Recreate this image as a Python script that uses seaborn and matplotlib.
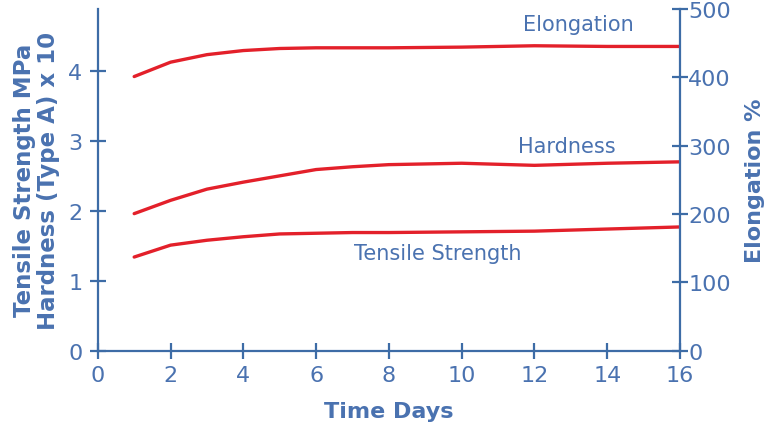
import matplotlib
matplotlib.use("Agg")
import matplotlib.pyplot as plt
import seaborn as sns

# data
days = [1, 2, 3, 4, 5, 6, 7, 8, 10, 12, 14, 16]
elongation = [401, 422, 433, 439, 442, 443, 443, 443, 444, 446, 445, 445]
hardness = [1.96, 2.15, 2.31, 2.41, 2.50, 2.59, 2.63, 2.66, 2.68, 2.65, 2.68, 2.70]
tensile = [1.34, 1.51, 1.58, 1.63, 1.67, 1.68, 1.69, 1.69, 1.70, 1.71, 1.74, 1.77]

blue = "#3d6ca6"
txt_blue = "#4a72b0"
red = "#e3202a"

sns.set_style("ticks")
plt.rcParams['font.family'] = ['DejaVu Sans']

fig = plt.figure(figsize=(7.64, 4.27), dpi=100)
ax = fig.add_axes([0.128, 0.176, 0.762, 0.801])
ax2 = ax.twinx()

sns.lineplot(x=days, y=hardness, ax=ax, color=red, linewidth=2.4)
sns.lineplot(x=days, y=tensile, ax=ax, color=red, linewidth=2.4)
sns.lineplot(x=days, y=elongation, ax=ax2, color=red, linewidth=2.4)

ax.set_xlim(0, 16)
ax.set_ylim(0, 4.886)
ax2.set_ylim(0, 500)
ax.set_xticks(range(0, 17, 2))
ax.set_yticks([0, 1, 2, 3, 4])
ax2.set_yticks([0, 100, 200, 300, 400, 500])

for a in (ax, ax2):
    for s in a.spines.values():
        s.set_color(blue)
        s.set_linewidth(1.6)
    a.spines['top'].set_visible(False)
    a.tick_params(direction='inout', length=12, width=1.6, color=blue,
                  labelcolor=txt_blue, labelsize=16)
ax.spines['right'].set_visible(False)
ax2.spines['left'].set_visible(False)
ax2.spines['bottom'].set_visible(False)
ax.tick_params(axis='x', pad=4)
ax.tick_params(axis='y', pad=5)
ax2.tick_params(axis='y', pad=0)

ax.set_xlabel("Time Days", color=txt_blue, fontsize=16, fontweight='bold', labelpad=12)
ax.set_ylabel("Tensile Strength MPa\nHardness (Type A) x 10", color=txt_blue,
              fontsize=16.5, fontweight='bold', linespacing=1.05, labelpad=6)
ax2.set_ylabel("Elongation %", color=txt_blue, fontsize=16, fontweight='bold', labelpad=10)

ax2.text(13.2, 478, "Elongation", color=txt_blue, fontsize=15, ha='center', va='center')
ax.text(12.9, 2.93, "Hardness", color=txt_blue, fontsize=15, ha='center', va='center')
ax.text(9.34, 1.40, "Tensile Strength", color=txt_blue, fontsize=15, ha='center', va='center')

fig.savefig("out.png", dpi=100)
